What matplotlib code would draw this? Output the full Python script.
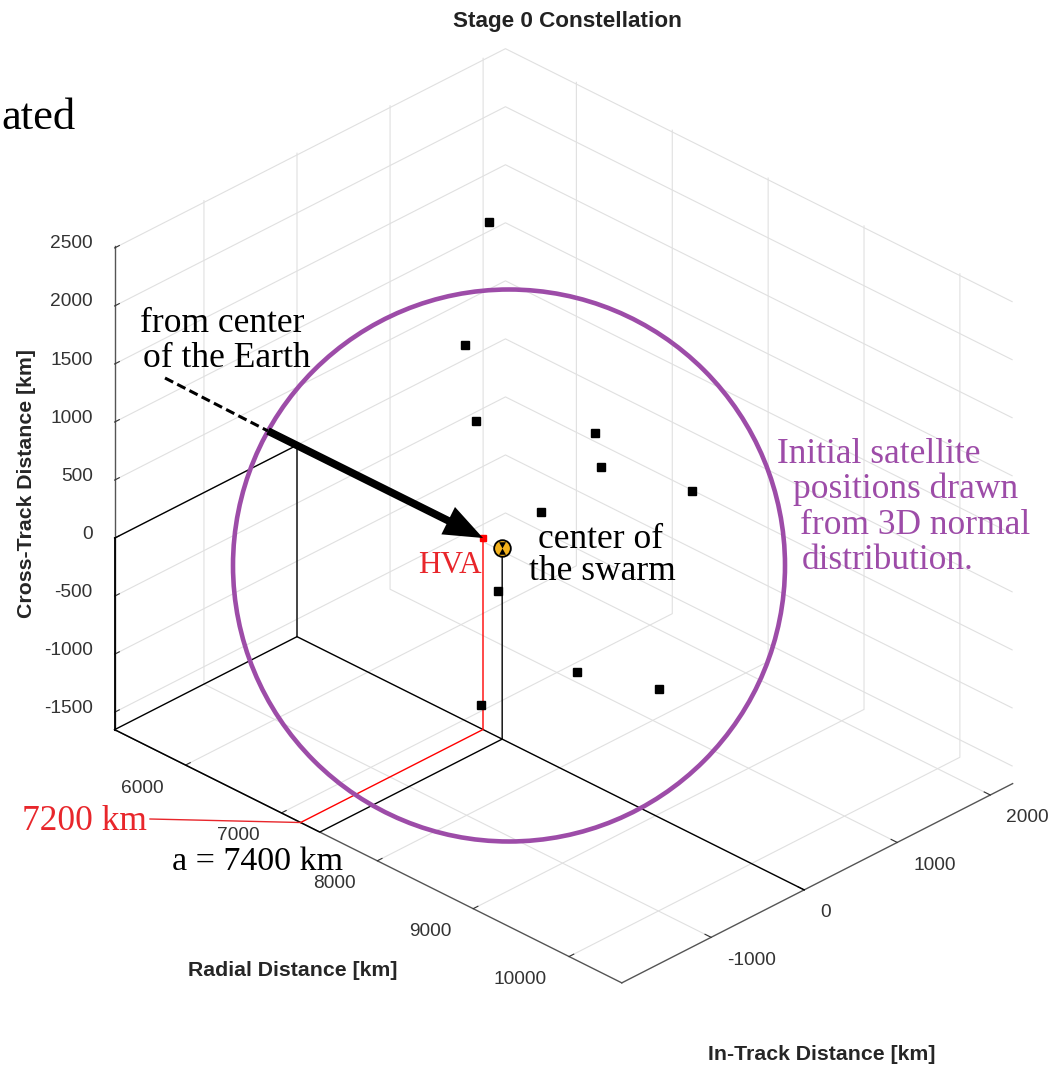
import matplotlib
matplotlib.use("Agg")
import matplotlib.pyplot as plt
from matplotlib.lines import Line2D
from matplotlib.patches import ArrowStyle, Ellipse, FancyArrowPatch
from mpl_toolkits.mplot3d import proj3d

# axis limits and ticks [km]
radial_lim = (5260, 10550)
intrack_lim = (-1960, 2240)
cross_lim = (-1650, 2520)
radial_ticks = [6000, 7000, 8000, 9000, 10000]
intrack_ticks = [-1000, 0, 1000, 2000]
cross_ticks = [-1500, -1000, -500, 0, 500, 1000, 1500, 2000, 2500]

# initial satellite positions [km]
sat_radial = [6600, 7900, 8200, 7600, 8000, 8500, 6900, 8100, 8300, 7500, 8600]
sat_intrack = [685, -914, -1102, 791, 449, 904, 936, -765, -1150, 700, 449]
sat_cross = [2196, 2324, 1872, 748, 760, 573, -280, 224, -512, -1316, -910]

# high value asset and swarm center [km]
hva = (7200, 0, 0)
swarm_center = (7400, 0, 0)

W, H = 1059, 1068
PURPLE = "#9d4ca8"
RED = "#e8262b"
SERIF = "Liberation Serif"
TICK_COLOR = "#333333"

plt.rcParams["font.family"] = "Liberation Sans"
plt.rcParams["axes.unicode_minus"] = False
plt.rcParams["grid.color"] = "#e0e0e0"
plt.rcParams["grid.linewidth"] = 0.8
plt.rcParams["axes.edgecolor"] = "#555555"
plt.rcParams["axes.linewidth"] = 1.0


def fig_xy(px, py):
    return px / W, 1 - py / H


fig = plt.figure(figsize=(W / 100, H / 100), dpi=100)
ax = fig.add_axes([0, 0, 1, 1], projection="3d", proj_type="ortho")
ax.view_init(elev=30.3, azim=-45.3)
box = (714, 556, 561)
ax.set_box_aspect(box)
ax.computed_zorder = False

for axis in (ax.xaxis, ax.yaxis, ax.zaxis):
    axis.set_pane_color((1, 1, 1, 0))
    axis._axinfo["tick"]["inward_factor"] = 0.0
    axis._axinfo["tick"]["outward_factor"] = 0.15
# keep the vertical axis on the left edge of the box
ax.zaxis.set_ticks_position("lower")

ax.set_xlim(*radial_lim)
ax.set_ylim(*intrack_lim)
ax.set_zlim(*cross_lim)
ax.set_xticks(radial_ticks)
ax.set_yticks(intrack_ticks)
ax.set_zticks(cross_ticks)
ax.set_xticklabels([])
ax.set_yticklabels([])
ax.set_zticklabels([])
ax.tick_params(colors=TICK_COLOR)

x0, x1 = radial_lim
y0 = intrack_lim[0]
z0 = cross_lim[0]
xc = swarm_center[0]
xh = hva[0]

# guide lines back to the walls
ax.plot([x0, x0, x0, x0], [y0, 0, 0, y0], [0, 0, z0, z0], color="k", lw=1, zorder=2)
ax.plot([x0, x0], [y0, y0], [0, z0], color="k", lw=1.3, zorder=2)
ax.plot([x0, x1], [0, 0], [z0, z0], color="k", lw=1, zorder=2)
ax.plot([x0, xh], [0, 0], [0, 0], color="k", lw=1, zorder=2)
ax.plot([xc, xc, xc, x0], [0, 0, y0, y0], [0, z0, z0, z0], color="k", lw=1, zorder=2)
ax.plot([xh, xh, xh], [0, 0, y0], [0, z0, z0], color="red", lw=1, zorder=3)

ax.plot(sat_radial, sat_intrack, sat_cross, ls="none", marker="s", ms=5.5,
        color="k", zorder=5)
ax.plot([hva[0]], [hva[1]], [hva[2]], ls="none", marker="s", ms=4.5,
        color="red", zorder=6)
ax.plot([xc], [swarm_center[1]], [swarm_center[2]], ls="none", marker="o",
        ms=12, mfc="#f3b21d", mec="k", mew=1.3, zorder=6)
bowtie = [(-0.55, 1), (0.55, 1), (0, 0), (0.55, -1), (-0.55, -1), (0, 0)]
ax.plot([xc], [swarm_center[1]], [swarm_center[2]], ls="none", marker=bowtie,
        ms=9, color="k", mew=0, zorder=7)


def to_px(x, y, z):
    xs, ys, _ = proj3d.proj_transform(x, y, z, ax.M)
    dx, dy = ax.transData.transform((xs, ys))
    return dx, H - dy


# scale and shift the box so it sits where the annotations expect it
fig.canvas.draw()
left = to_px(x0, y0, z0)
right = to_px(x1, intrack_lim[1], z0)
ax.set_box_aspect(box, zoom=(1013 - 115) / (right[0] - left[0]))
fig.canvas.draw()
hx, hy = to_px(*hva)
ax.set_position([(483 - hx) / W, (hy - 538) / H, 1, 1])
fig.canvas.draw()

# tick labels placed beside their axis lines
for t in radial_ticks:
    px, py = to_px(t, y0, z0)
    fig.text(*fig_xy(px - 22, py + 23), str(t), ha="right", va="center",
             fontsize=13.8, color=TICK_COLOR)
for t in intrack_ticks:
    px, py = to_px(x1, t, z0)
    fig.text(*fig_xy(px + 16, py + 23), str(t), ha="left", va="center",
             fontsize=13.8, color=TICK_COLOR)
for t in cross_ticks:
    px, py = to_px(x0, y0, t)
    fig.text(*fig_xy(px - 22, py - 4), str(t), ha="right", va="center",
             fontsize=13.8, color=TICK_COLOR)

tip = to_px(*hva)
mark_7200 = to_px(xh, y0, z0)

# titles and axis labels
fig.text(*fig_xy(567, 21), "Stage 0 Constellation", ha="center", va="center",
         fontsize=16.2, fontweight="bold", color="#222222")
fig.text(*fig_xy(27, 483), "Cross-Track Distance [km]", rotation=90,
         ha="center", va="center", fontsize=15.3, fontweight="bold", color="#262626")
fig.text(*fig_xy(293, 970), "Radial Distance [km]", ha="center", va="center",
         fontsize=15.3, fontweight="bold", color="#262626")
fig.text(*fig_xy(822, 1055), "In-Track Distance [km]", ha="center", va="center",
         fontsize=15.3, fontweight="bold", color="#262626")


def note(px, py, s, ha="left", size=25.5, color="k"):
    fig.text(*fig_xy(px, py), s, ha=ha, va="baseline", fontsize=size,
             family=SERIF, color=color)


note(1, 129, "ated", size=32)
note(140, 332, "from center")
note(143, 367, "of the Earth")
note(450, 573, "HVA", ha="center", size=22.5, color=RED)
note(601, 548, "center of", ha="center")
note(602, 580, "the swarm", ha="center")
note(777, 463, "Initial satellite", color=PURPLE)
note(793, 498, "positions drawn", color=PURPLE)
note(800, 534, "from 3D normal", color=PURPLE)
note(802, 569, "distribution.", color=PURPLE)
note(22, 830, "7200 km", color=RED)
note(172, 870, "a = 7400 km", size=24.5)

fig.add_artist(Line2D([150 / W, mark_7200[0] / W],
                      [1 - 819 / H, 1 - mark_7200[1] / H],
                      transform=fig.transFigure, color=RED, lw=1))

fig.add_artist(Ellipse(fig_xy(509, 565.5), width=2 * 276 / W, height=2 * 276 / H,
                       transform=fig.transFigure, fill=False, ec=PURPLE, lw=3.3))

# arrow from the Earth's center to the HVA
fig.add_artist(Line2D([165 / W, 268 / W], [1 - 378 / H, 1 - 431 / H],
                      transform=fig.transFigure, color="k", lw=2.2, ls=(0, (3, 1.5))))
fig.add_artist(FancyArrowPatch(fig_xy(268, 431), (tip[0] / W, 1 - tip[1] / H),
                               transform=fig.transFigure,
                               arrowstyle=ArrowStyle.Simple(head_length=28, head_width=22,
                                                            tail_width=5.5),
                               mutation_scale=1, shrinkA=0, shrinkB=0,
                               color="k", lw=0))

fig.savefig("out.png", dpi=100)
